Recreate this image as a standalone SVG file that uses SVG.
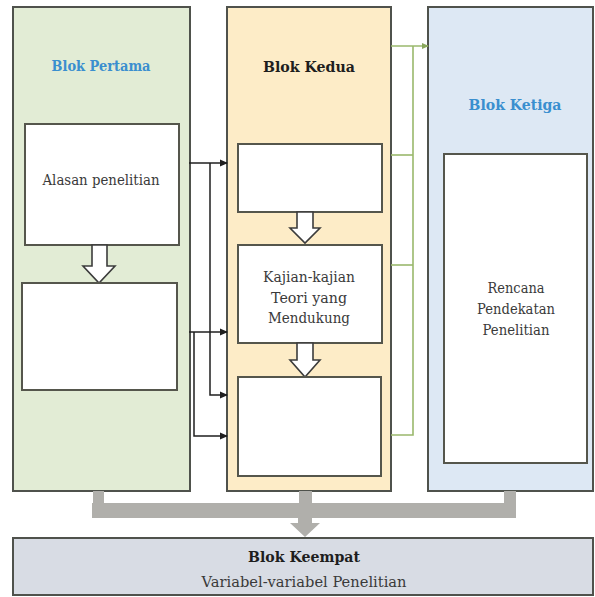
<svg xmlns="http://www.w3.org/2000/svg" width="595" height="597" viewBox="0 0 595 597">
  <defs>
    <style>
      .panel { stroke: #4f524c; stroke-width: 2; }
      .box { fill: #ffffff; stroke: #55564c; stroke-width: 2; }
      .hollow { fill: #ffffff; stroke: #3c3c3c; stroke-width: 1.6; stroke-linejoin: miter; }
      text { font-family: 'DejaVu Serif', serif; font-size: 15px; text-anchor: middle; }
      .title { font-weight: bold; }
      .blue { fill: #3a8fcf; }
      .dark { fill: #1e1e1e; }
      .txt { fill: #3a3a3a; }
      .link { fill: none; stroke: #1f1f1f; stroke-width: 1.5; }
      .glink { fill: none; stroke: #9ab86c; stroke-width: 1.6; }
      .gray { fill: #b0afab; }
    </style>
    <marker id="ah" markerWidth="8" markerHeight="8" refX="7" refY="4" orient="auto" markerUnits="userSpaceOnUse">
      <path d="M0,0.5 L8,4 L0,7.5 Z" fill="#1f1f1f"/>
    </marker>
    <marker id="gah" markerWidth="7" markerHeight="7" refX="6" refY="3.5" orient="auto" markerUnits="userSpaceOnUse">
      <path d="M0,0.5 L7,3.5 L0,6.5 Z" fill="#8aa85c"/>
    </marker>
  </defs>

  <rect width="595" height="597" fill="#ffffff"/>

  <!-- Block 1 -->
  <g id="blok-pertama">
    <rect class="panel" x="13" y="7" width="177" height="484" fill="#e2ecd5"/>
    <text class="title blue" x="101" y="71" textLength="99" lengthAdjust="spacingAndGlyphs">Blok Pertama</text>
    <rect class="box" x="25" y="124" width="154" height="121"/>
    <text class="txt" x="101" y="185" textLength="117" lengthAdjust="spacingAndGlyphs">Alasan penelitian</text>
    <path class="hollow" d="M92,245 H107 V266 H115 L99,283 L83,266 H92 Z"/>
    <rect class="box" x="22" y="283" width="155" height="107"/>
  </g>

  <!-- Block 2 -->
  <g id="blok-kedua">
    <rect class="panel" x="227" y="7" width="164" height="484" fill="#fdecc7"/>
    <text class="title dark" x="309" y="72" textLength="92" lengthAdjust="spacingAndGlyphs">Blok Kedua</text>
    <rect class="box" x="238" y="144" width="144" height="68"/>
    <path class="hollow" d="M297,212 H313 V228 H320 L305,243 L290,228 H297 Z"/>
    <rect class="box" x="238" y="245" width="144" height="98"/>
    <text class="txt" x="309" y="282" textLength="92" lengthAdjust="spacingAndGlyphs">Kajian-kajian</text>
    <text class="txt" x="309" y="303" textLength="76" lengthAdjust="spacingAndGlyphs">Teori yang</text>
    <text class="txt" x="309" y="323" textLength="82" lengthAdjust="spacingAndGlyphs">Mendukung</text>
    <path class="hollow" d="M297,343 H313 V360 H320 L305,377 L290,360 H297 Z"/>
    <rect class="box" x="238" y="377" width="143" height="99"/>
  </g>

  <!-- Block 3 -->
  <g id="blok-ketiga">
    <rect class="panel" x="428" y="7" width="165" height="484" fill="#dde8f4"/>
    <text class="title blue" x="515" y="110" textLength="93" lengthAdjust="spacingAndGlyphs">Blok Ketiga</text>
    <rect class="box" x="444" y="154" width="143" height="309"/>
    <text class="txt" x="516" y="293" textLength="57" lengthAdjust="spacingAndGlyphs">Rencana</text>
    <text class="txt" x="516" y="314" textLength="78" lengthAdjust="spacingAndGlyphs">Pendekatan</text>
    <text class="txt" x="516" y="335" textLength="67" lengthAdjust="spacingAndGlyphs">Penelitian</text>
  </g>

  <!-- Block 4 -->
  <g id="blok-keempat">
    <rect class="panel" x="13" y="538" width="580" height="57" fill="#d8dce4"/>
    <text class="title dark" x="304" y="562" textLength="112" lengthAdjust="spacingAndGlyphs">Blok Keempat</text>
    <text class="txt" x="304" y="587" textLength="205" lengthAdjust="spacingAndGlyphs">Variabel-variabel Penelitian</text>
  </g>

  <!-- Connectors -->
  <g id="connectors">
    <!-- Block 1 to Block 2 -->
    <path class="link" d="M189,163 H227" marker-end="url(#ah)"/>
    <path class="link" d="M210,163 V395 H227" marker-end="url(#ah)"/>
    <path class="link" d="M189,332 H227" marker-end="url(#ah)"/>
    <path class="link" d="M194,332 V436 H227" marker-end="url(#ah)"/>
    <!-- Block 2 to Block 3 -->
    <path class="glink" d="M391,46 H428" marker-end="url(#gah)"/>
    <path class="glink" d="M413,46 V435 H391"/>
    <path class="glink" d="M391,155 H413"/>
    <path class="glink" d="M391,265 H413"/>
    <!-- Blocks 1-3 to Block 4 -->
    <rect class="gray" x="93" y="491" width="11" height="14"/>
    <rect class="gray" x="299" y="491" width="13" height="14"/>
    <rect class="gray" x="504" y="491" width="12" height="14"/>
    <rect class="gray" x="92" y="503" width="424" height="15"/>
    <path class="gray" d="M298,518 H312 V523 H320 L305,537 L290,523 H298 Z"/>
  </g>
</svg>
